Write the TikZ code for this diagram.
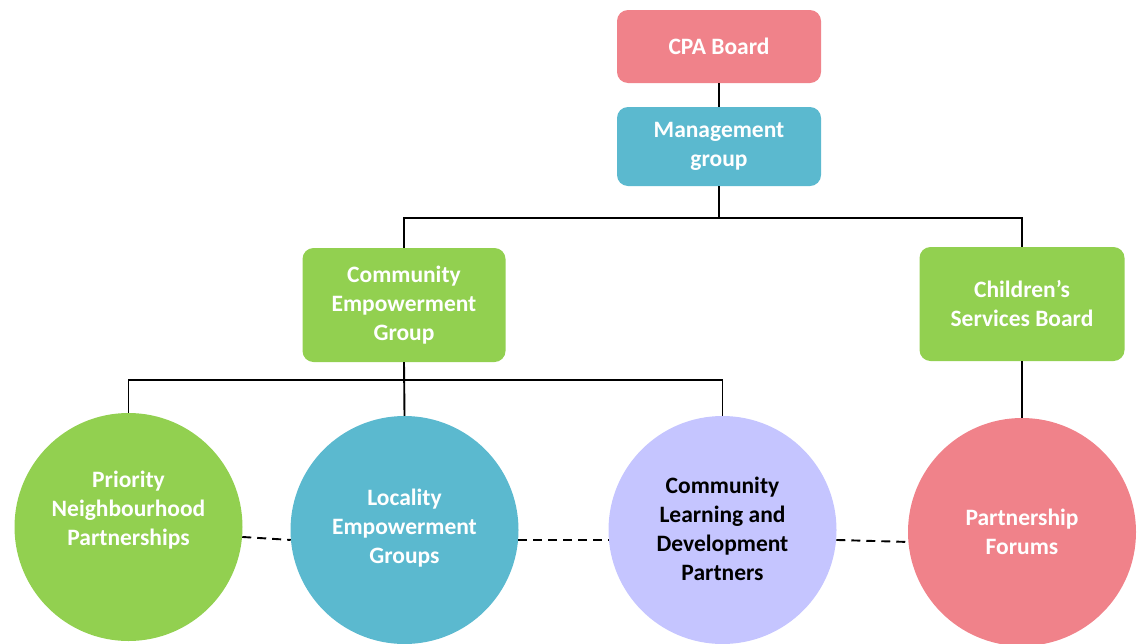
\documentclass[tikz,border=0pt]{standalone}
\usepackage{fontspec}
\setmainfont{Carlito}
\definecolor{cpink}{RGB}{240,130,138}
\definecolor{cblue}{RGB}{91,185,207}
\definecolor{cgreen}{RGB}{146,208,80}
\definecolor{clav}{RGB}{197,197,255}
\begin{document}
\begin{tikzpicture}[x=1pt,y=-1pt,
  lblfont/.style={font=\fontsize{23.5}{29}\selectfont\bfseries},
  box/.style={rounded corners=11pt, inner sep=0pt, align=center, text=white, lblfont},
  circ/.style={circle, minimum size=228pt, inner sep=0pt},
  ctext/.style={align=center, text=white, lblfont, inner sep=0pt},
  conn/.style={line width=1.9pt, black},
  link/.style={line width=1.9pt, black, dash pattern=on 9pt off 6pt}]
\useasboundingbox (0,0) rectangle (1142,643);
% boxes
\node[box, fill=cpink, minimum width=204pt, minimum height=73pt] (cpa) at (719,46.5) {CPA Board};
\node[box, fill=cblue, minimum width=204pt, minimum height=79pt] (mg) at (719,146.5) {Management\\group};
\node[box, fill=cgreen, minimum width=203pt, minimum height=114pt] (ceg) at (404,305) {Community\\Empowerment\\Group};
\node[box, fill=cgreen, minimum width=205pt, minimum height=114pt] (csb) at (1022,304) {Children’s\\Services Board};
% circles
\node[circ, fill=cgreen] (pnp) at (128.5,527) {};
\node[circ, fill=cblue] (leg) at (404.5,530) {};
\node[circ, fill=clav] (cldp) at (722.5,530) {};
\node[circ, fill=cpink] (pf) at (1022,532) {};
\node[ctext] (pnpt) at (128.5,510) {Priority\\Neighbourhood\\Partnerships};
\node[ctext] (legt) at (404.5,528) {Locality\\Empowerment\\Groups};
\node[ctext, text=black] (cldpt) at (722.5,528.5) {Community\\Learning and\\Development\\Partners};
\node[ctext] (pft) at (1022,531.5) {Partnership\\Forums};
% bus coordinates
\coordinate (bus1) at (0,218);
\coordinate (bus2) at (0,380);
% connectors
\draw[conn] (cpa.south) -- (mg.north);
\draw[conn] (mg.south) -- (mg.south |- bus1);
\draw[conn] (ceg.north) -- (ceg.north |- bus1) -- (csb.north |- bus1) -- (csb.north);
\draw[conn] (ceg.south) -- (leg.north);
\draw[conn] (pnp.north) -- (pnp.north |- bus2) -- (cldp.north |- bus2) -- (cldp.north);
\draw[conn] (csb.south) -- (pf.north);
% dashed links
\draw[link] (pnp.-5) -- (leg.185);
\draw[link] (leg.-5) -- (cldp.185);
\draw[link] (cldp.-5) -- (pf.185);
\end{tikzpicture}
\end{document}
